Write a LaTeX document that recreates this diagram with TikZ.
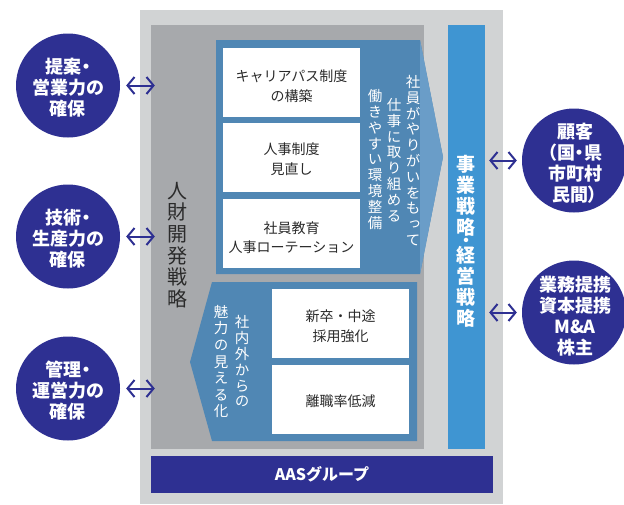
\documentclass[tikz,border=0pt]{standalone}
\usepackage{fontspec}
\setmainfont{Noto Sans CJK JP}
\newfontfamily\jpv[RawFeature=+vert]{Noto Sans CJK JP}
\newfontfamily\jpp[RawFeature=+palt]{Noto Sans CJK JP}
\usetikzlibrary{arrows.meta}
\definecolor{lgray}{HTML}{D1D3D4}
\definecolor{dgray}{HTML}{A7A9AC}
\definecolor{steel}{HTML}{5087B4}
\definecolor{steellt}{HTML}{6A9DC8}
\definecolor{brblue}{HTML}{3F95D2}
\definecolor{navy}{HTML}{2E3092}
\definecolor{ink}{HTML}{2B2B2B}
\tikzset{
  circ/.style={circle, fill=navy, minimum size=104, inner sep=0},
  ctext/.style={align=center, text=white, inner sep=0, font=\jpp\fontsize{18}{21}\selectfont\bfseries},
  dbl/.style={draw=navy, line width=2pt, {Straight Barb[length=7pt,width=17pt]}-{Straight Barb[length=7pt,width=17pt]}},
  wbox/.style={rectangle, fill=white, inner sep=0, minimum width=137, minimum height=69},
  btext/.style={align=center, text=ink, inner sep=0, font=\fontsize{14}{20}\selectfont},
  vtext/.style={align=center, text=white, inner sep=0, font=\jpv\fontsize{14.5}{15.8}\selectfont},
  bartext/.style={align=center, text=white, inner sep=0, font=\jpv\fontsize{19}{21}\selectfont\bfseries},
  plain/.style={rectangle, inner sep=0},
}
\begin{document}
\begin{tikzpicture}[x=1pt,y=-1pt]
\useasboundingbox (0,0) rectangle (624,504);
% frames
\node[plain, fill=lgray, minimum width=363, minimum height=494] (outer) at (321.5,257) {};
\node[plain, fill=dgray, minimum width=273, minimum height=424] (hr) at (287.5,237) {};
\node[plain, fill=brblue, minimum width=37.5, minimum height=424] (bar) at (466.25,237) {};
\node[plain, fill=navy, minimum width=342, minimum height=37] (aas) at (322,474.5) {};
\node[text=white, font=\fontsize{16}{16}\selectfont\bfseries] (aast) at (322,474) {AASグループ};
% upper arrow shape
\fill[steel] (216,40) -- (420,40) -- (443,157) -- (420,274) -- (216,274) -- cycle;
\fill[steellt] (420,40) -- (443,157) -- (420,274) -- cycle;
% lower arrow shape
\fill[steel] (212,282) -- (417,282) -- (417,441) -- (212,441) -- (190,362) -- cycle;
% white boxes
\node[wbox] (b1) at (291.5,82.5) {};
\node[wbox] (b2) at (291.5,157.5) {};
\node[wbox] (b3) at (291.5,233.5) {};
\node[wbox] (b4) at (340.5,323.5) {};
\node[wbox] (b5) at (340.5,399) {};
\node[btext] (t1) at (291.5,86.5) {キャリアパス制度\\の構築};
\node[btext] (t2) at (291.5,159.5) {人事制度\\見直し};
\node[btext, font=\fontsize{14}{18.5}\selectfont] (t3) at (291.5,237.5) {社員教育\\人事ローテーション};
\node[btext] (t4) at (340.5,326) {新卒・中途\\採用強化};
\node[btext] (t5) at (340.5,401) {離職率低減};
% vertical texts
\node[vtext] (v1) at (413,160.5) {社\\員\\が\\や\\り\\が\\い\\を\\も\\っ\\て};
\node[vtext] (v2) at (394,160) {仕\\事\\に\\取\\り\\組\\め\\る};
\node[vtext] (v3) at (375,159.5) {働\\き\\や\\す\\い\\環\\境\\整\\備};
\node[vtext] (v4) at (242,361.5) {社\\内\\外\\か\\ら\\の};
\node[vtext, font=\jpv\fontsize{14.5}{16.6}\selectfont] (v5) at (221,361.5) {魅\\力\\の\\見\\え\\る\\化};
\node[align=center, text=ink, inner sep=0, font=\jpv\fontsize{20}{21.6}\selectfont] (hrt) at (177,245) {人\\財\\開\\発\\戦\\略};
\node[bartext] (bart) at (466,241) {事\\業\\戦\\略\\[-8.6pt]{\fontsize{16}{16}\selectfont ・}\\[-5.8pt]経\\営\\戦\\略};
% circles
\node[circ] (c1) at (68,85.5) {};
\node[circ] (c2) at (68,236.5) {};
\node[circ] (c3) at (68,388.5) {};
\node[circ] (r1) at (574,160.5) {};
\node[circ] (r2) at (574,312.5) {};
\node[ctext] (c1t) at (68,88) {提案・\\営業力の\\確保};
\node[ctext] (c2t) at (68,239) {技術・\\生産力の\\確保};
\node[ctext] (c3t) at (68,390.5) {管理・\\運営力の\\確保};
\node[ctext] (r1t) at (575,163) {顧客\\（国・県\\市町村\\民間）};
\node[ctext] (r2t) at (575,316) {業務提携\\資本提携\\M\&A\\株主};
% connectors
\draw[dbl] ([xshift=6pt]c1.east) -- ([xshift=4pt]c1.east -| hr.west);
\draw[dbl] ([xshift=6pt]c2.east) -- ([xshift=4pt]c2.east -| hr.west);
\draw[dbl] ([xshift=6pt]c3.east) -- ([xshift=4pt]c3.east -| hr.west);
\draw[dbl] ([xshift=4pt]r1.west -| bar.east) -- ([xshift=-5pt]r1.west);
\draw[dbl] ([xshift=4pt]r2.west -| bar.east) -- ([xshift=-5pt]r2.west);
\end{tikzpicture}
\end{document}
